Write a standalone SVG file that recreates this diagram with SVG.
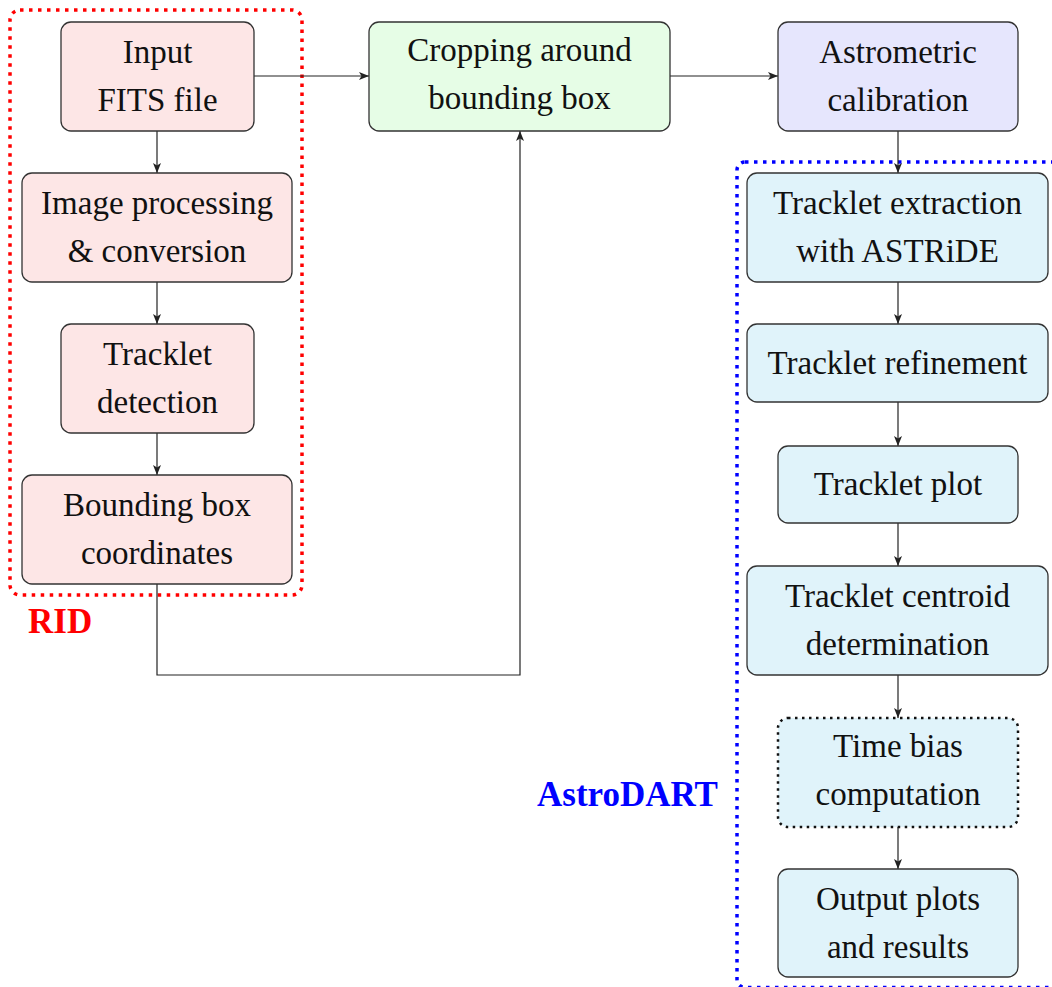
<svg xmlns="http://www.w3.org/2000/svg" width="1052" height="987" viewBox="0 0 1052 987">
<defs>
<marker id="arr" viewBox="0 0 10 8" refX="10" refY="4" markerWidth="10" markerHeight="8" markerUnits="userSpaceOnUse" orient="auto">
<path d="M0,0 L10,4 L0,8 L2.5,4 Z" fill="#222"/>
</marker>
</defs>
<style>
.n{stroke:#333;stroke-width:1.3}
.pink{fill:#fde6e6}.green{fill:#e6fde6}.lav{fill:#e6e6fd}.cyan{fill:#e0f3fa}
.t{font-family:"Liberation Serif","Times New Roman",serif;font-size:33px;fill:#111;text-anchor:middle}
.lbl{font-family:"Liberation Serif","Times New Roman",serif;font-size:35px;font-weight:bold}
.c{fill:none;stroke:#222;stroke-width:1.2}
</style>
<rect x="10" y="10" width="292" height="585" rx="10" fill="none" stroke="#ff0000" stroke-width="3.5" stroke-dasharray="3.5 5.5"/>
<text class="lbl" x="28" y="633" fill="#ff0000">RID</text>
<rect x="737" y="162" width="340" height="825.5" rx="8" fill="none" stroke="#0000ff" stroke-width="3.5" stroke-dasharray="3.5 5.5"/>
<text class="lbl" x="537" y="806" fill="#0000ff">AstroDART</text>
<g id="connectors">
<line class="c" x1="254" y1="76" x2="369" y2="76" marker-end="url(#arr)"/>
<line class="c" x1="670" y1="76" x2="778" y2="76" marker-end="url(#arr)"/>
<line class="c" x1="157" y1="131" x2="157" y2="173" marker-end="url(#arr)"/>
<line class="c" x1="157" y1="282" x2="157" y2="324" marker-end="url(#arr)"/>
<line class="c" x1="157" y1="433" x2="157" y2="475" marker-end="url(#arr)"/>
<polyline class="c" points="157,584 157,675 520,675 520,131" marker-end="url(#arr)"/>
<line class="c" x1="898" y1="131" x2="898" y2="173" marker-end="url(#arr)"/>
<line class="c" x1="898" y1="282" x2="898" y2="324" marker-end="url(#arr)"/>
<line class="c" x1="898" y1="402" x2="898" y2="446" marker-end="url(#arr)"/>
<line class="c" x1="898" y1="523" x2="898" y2="566" marker-end="url(#arr)"/>
<line class="c" x1="898" y1="675" x2="898" y2="718" marker-end="url(#arr)"/>
<line class="c" x1="898" y1="827" x2="898" y2="869" marker-end="url(#arr)"/>
</g>
<g id="input">
<rect class="n pink" x="61" y="22" width="193" height="109" rx="10"/>
<text class="t" x="157.5" y="63">Input</text>
<text class="t" x="157.5" y="111">FITS file</text>
</g>
<g id="imgproc">
<rect class="n pink" x="22" y="173" width="270" height="109" rx="10"/>
<text class="t" x="157" y="214">Image processing</text>
<text class="t" x="157" y="262">&amp; conversion</text>
</g>
<g id="detect">
<rect class="n pink" x="61" y="324" width="193" height="109" rx="10"/>
<text class="t" x="157.5" y="365">Tracklet</text>
<text class="t" x="157.5" y="413">detection</text>
</g>
<g id="bbox">
<rect class="n pink" x="22" y="475" width="270" height="109" rx="10"/>
<text class="t" x="157" y="516">Bounding box</text>
<text class="t" x="157" y="564">coordinates</text>
</g>
<g id="crop">
<rect class="n green" x="369" y="22" width="301" height="109" rx="10"/>
<text class="t" x="519.5" y="61">Cropping around</text>
<text class="t" x="519.5" y="109">bounding box</text>
</g>
<g id="astrometric">
<rect class="n lav" x="778" y="22" width="240" height="109" rx="10"/>
<text class="t" x="898" y="63">Astrometric</text>
<text class="t" x="898" y="111">calibration</text>
</g>
<g id="extraction">
<rect class="n cyan" x="747" y="173" width="301" height="109" rx="10"/>
<text class="t" x="897.5" y="214">Tracklet extraction</text>
<text class="t" x="897.5" y="262">with ASTRiDE</text>
</g>
<g id="refinement">
<rect class="n cyan" x="747" y="324" width="301" height="78" rx="10"/>
<text class="t" x="897.5" y="374">Tracklet refinement</text>
</g>
<g id="plot">
<rect class="n cyan" x="778" y="446" width="240" height="77" rx="10"/>
<text class="t" x="898" y="495">Tracklet plot</text>
</g>
<g id="centroid">
<rect class="n cyan" x="747" y="566" width="301" height="109" rx="10"/>
<text class="t" x="897.5" y="607">Tracklet centroid</text>
<text class="t" x="897.5" y="655">determination</text>
</g>
<g id="timebias">
<rect class="cyan" x="778" y="718" width="240" height="109" rx="10" stroke="#111" stroke-width="2.5" stroke-dasharray="2.5 4.5"/>
<text class="t" x="898" y="757">Time bias</text>
<text class="t" x="898" y="805">computation</text>
</g>
<g id="output">
<rect class="n cyan" x="778" y="869" width="240" height="108" rx="10"/>
<text class="t" x="898" y="910">Output plots</text>
<text class="t" x="898" y="958">and results</text>
</g>
</svg>
